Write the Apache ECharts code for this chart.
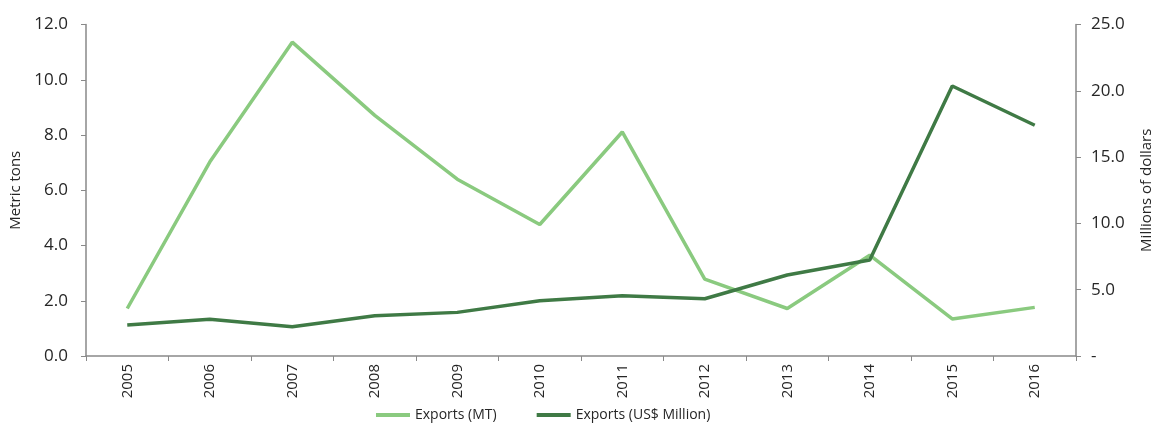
<!DOCTYPE html>
<html>
<head>
<meta charset="utf-8">
<script src="https://cdn.jsdelivr.net/npm/echarts@6/dist/echarts.min.js"></script>
<style>
  html, body { margin: 0; padding: 0; background: #fff; }
  #chart { width: 1154px; height: 428px; }
</style>
</head>
<body>
<div id="chart"></div>
<script>
// Yearly export volumes and values
const years = ['2005', '2006', '2007', '2008', '2009', '2010', '2011', '2012', '2013', '2014', '2015', '2016'];
const exportsMT = [1.72, 7.02, 11.36, 8.71, 6.40, 4.76, 8.11, 2.78, 1.72, 3.65, 1.34, 1.76];
const exportsUSD = [2.34, 2.77, 2.21, 3.04, 3.29, 4.17, 4.55, 4.32, 6.11, 7.24, 20.36, 17.40];
const seriesNames = ['Exports (MT)', 'Exports (US$ Million)'];

const FONT = 'Open Sans';
const AXIS_GREY = '#898989';
const TEXT = '#262626';

const chart = echarts.init(document.getElementById('chart'));
chart.setOption({
  animation: false,
  textStyle: { fontFamily: FONT },
  grid: {
    left: 86, right: 78, top: 24.5, bottom: 72,
    containLabel: false,
    outerBoundsMode: 'none'
  },
  legend: {
    bottom: 1,
    left: 371,
    itemWidth: 34,
    itemHeight: 4,
    itemGap: 40,
    icon: 'rect',
    textStyle: { fontFamily: FONT, fontSize: 14, color: TEXT },
    data: seriesNames
  },
  xAxis: {
    type: 'category',
    data: years,
    boundaryGap: true,
    axisLine: { lineStyle: { color: AXIS_GREY, width: 1.5 } },
    axisTick: { show: true, length: 5, lineStyle: { color: AXIS_GREY } },
    axisLabel: { rotate: 90, fontSize: 15, color: TEXT, margin: 8, fontFamily: FONT }
  },
  yAxis: [
    {
      type: 'value',
      min: 0, max: 12, interval: 2,
      name: 'Metric tons',
      nameLocation: 'middle',
      nameGap: 58,
      nameRotate: 90,
      nameTextStyle: { fontSize: 15, color: TEXT, fontFamily: FONT },
      axisLine: { show: true, lineStyle: { color: AXIS_GREY, width: 1.5 } },
      axisTick: { show: true, length: 5, lineStyle: { color: AXIS_GREY } },
      splitLine: { show: false },
      axisLabel: {
        fontSize: 17, color: TEXT, margin: 18, fontFamily: FONT,
        formatter: v => v.toFixed(1)
      }
    },
    {
      type: 'value',
      min: 0, max: 25, interval: 5,
      name: 'Millions of dollars',
      nameLocation: 'middle',
      nameGap: 63,
      nameRotate: 90,
      nameTextStyle: { fontSize: 15, color: TEXT, fontFamily: FONT },
      position: 'right',
      axisLine: { show: true, lineStyle: { color: AXIS_GREY, width: 1.5 } },
      axisTick: { show: true, length: 5, lineStyle: { color: AXIS_GREY } },
      splitLine: { show: false },
      axisLabel: {
        fontSize: 17, color: TEXT, margin: 15, fontFamily: FONT,
        formatter: v => (v === 0 ? '-' : v.toFixed(1))
      }
    }
  ],
  series: [
    {
      name: seriesNames[0],
      type: 'line',
      yAxisIndex: 0,
      data: exportsMT,
      symbol: 'none',
      lineStyle: { color: '#8aca7f', width: 3.5 },
      itemStyle: { color: '#8aca7f' }
    },
    {
      name: seriesNames[1],
      type: 'line',
      yAxisIndex: 1,
      data: exportsUSD,
      symbol: 'none',
      lineStyle: { color: '#3f7a45', width: 3.5 },
      itemStyle: { color: '#3f7a45' }
    }
  ]
});
</script>
</body>
</html>
